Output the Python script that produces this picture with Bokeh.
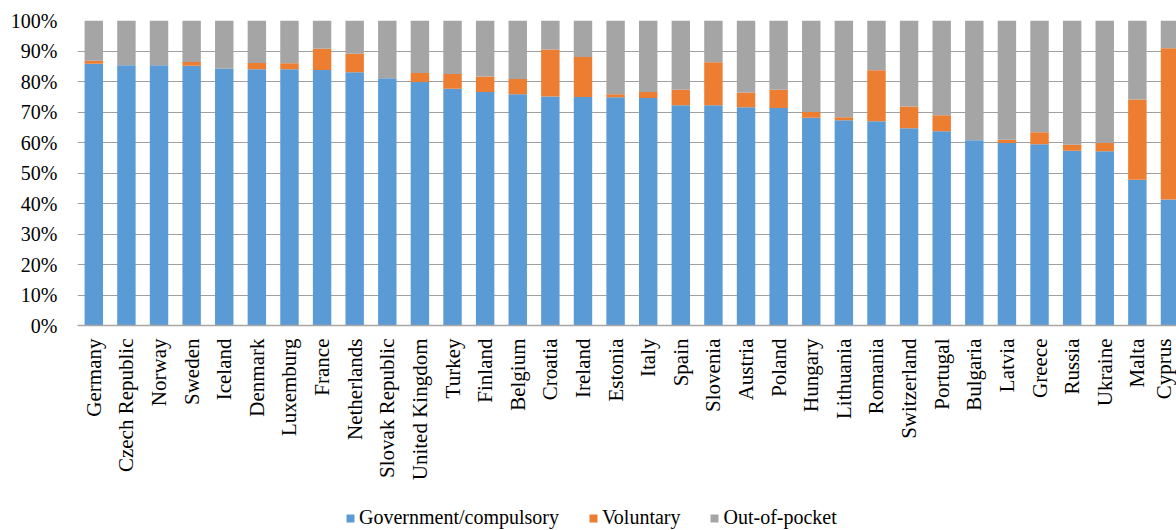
import math
from bokeh.plotting import figure
from bokeh.models import Range1d, FixedTicker, Legend, LegendItem, ColumnDataSource
from bokeh.embed import file_html
from bokeh.resources import INLINE

countries = ["Germany", "Czech Republic", "Norway", "Sweden", "Iceland", "Denmark",
             "Luxemburg", "France", "Netherlands", "Slovak Republic", "United Kingdom",
             "Turkey", "Finland", "Belgium", "Croatia", "Ireland", "Estonia", "Italy",
             "Spain", "Slovenia", "Austria", "Poland", "Hungary", "Lithuania", "Romania",
             "Switzerland", "Portugal", "Bulgaria", "Latvia", "Greece", "Russia",
             "Ukraine", "Malta", "Cyprus"]
government = [85.8, 85.3, 85.3, 85.2, 84.2, 84.0, 84.0, 83.8, 83.0, 81.1, 79.8,
              77.6, 76.6, 75.8, 75.1, 74.9, 74.8, 74.6, 72.2, 72.2, 71.6, 71.3,
              68.1, 67.3, 67.0, 64.7, 63.7, 60.7, 59.8, 59.4, 57.3, 57.1, 47.8, 41.3]
voluntary = [1.0, 0.0, 0.0, 1.2, 0.0, 2.1, 2.0, 6.9, 6.1, 0.0, 3.0,
             4.9, 5.0, 5.0, 15.4, 13.1, 1.0, 2.0, 5.1, 14.1, 4.8, 6.0,
             1.9, 1.0, 16.7, 7.1, 5.2, 0.0, 1.1, 4.0, 2.0, 2.7, 26.3, 49.6]
out_of_pocket = [13.2, 14.7, 14.7, 13.6, 15.8, 13.9, 14.0, 9.3, 10.9, 18.9, 17.2,
                 17.5, 18.4, 19.2, 9.5, 12.0, 24.2, 23.4, 22.7, 13.7, 23.6, 22.7,
                 30.0, 31.7, 16.3, 28.2, 31.1, 39.3, 39.1, 36.6, 40.7, 40.2, 25.9, 9.1]
series_names = ["Government/compulsory", "Voluntary", "Out-of-pocket"]
colors = ["#5B9BD5", "#ED7D31", "#A5A5A5"]
y_ticks = list(range(0, 101, 10))

positions = list(range(len(countries)))
src = ColumnDataSource(dict(x=positions, gov=government, vol=voluntary, oop=out_of_pocket))

FONT = "Liberation Serif"

# frame spans the full height below the title margin; the value axis
# occupies the top part (0..100) and the category labels + legend sit below 0
p = figure(width=1176, height=530, output_backend="svg", toolbar_location=None,
           x_range=Range1d(-0.5, 33.2), y_range=Range1d(-67.2, 100),
           min_border_left=77, min_border_top=20, min_border_right=0,
           min_border_bottom=0)
p.outline_line_color = None
p.background_fill_color = "white"

renderers = p.vbar_stack(["gov", "vol", "oop"], x="x", width=0.565, color=colors,
                         line_color=None, source=src)

# y axis
p.yaxis.ticker = FixedTicker(ticks=y_ticks)
p.yaxis.major_label_overrides = {t: f"{t}%" for t in y_ticks}
p.yaxis.axis_line_color = None
p.yaxis.major_tick_line_color = None
p.yaxis.minor_tick_line_color = None
p.yaxis.major_tick_out = 0
p.yaxis.major_tick_in = 0
p.yaxis.major_label_standoff = 20
p.yaxis.major_label_text_font = FONT
p.yaxis.major_label_text_font_size = "20px"
p.yaxis.major_label_text_color = "black"

# x axis, drawn at the 0% line
p.xaxis.fixed_location = 0
p.xaxis.ticker = FixedTicker(ticks=positions)
p.xaxis.major_label_overrides = {i: c for i, c in enumerate(countries)}
p.xaxis.major_label_orientation = math.pi / 2
p.xaxis.axis_line_color = "#A6A6A6"
p.xaxis.axis_line_width = 1.5
p.xaxis.major_tick_line_color = None
p.xaxis.minor_tick_line_color = None
p.xaxis.major_tick_out = 0
p.xaxis.major_tick_in = 0
p.xaxis.major_label_standoff = 13
p.xaxis.major_label_text_font = FONT
p.xaxis.major_label_text_font_size = "21px"
p.xaxis.major_label_text_color = "black"

p.xgrid.grid_line_color = None
p.ygrid.grid_line_color = "#A0A0A0"
p.ygrid.grid_line_width = 1.2

legend = Legend(items=[LegendItem(label=n, renderers=[r]) for n, r in zip(series_names, renderers)],
                orientation="horizontal", location=(268, 1),
                glyph_width=10, glyph_height=10, label_standoff=4, spacing=29,
                padding=0, margin=0, label_height=20,
                label_text_font=FONT, label_text_font_size="20px", label_text_color="black",
                background_fill_alpha=0, border_line_color=None)
p.add_layout(legend, "center")

open("out.html", "w").write(file_html(p, INLINE))
